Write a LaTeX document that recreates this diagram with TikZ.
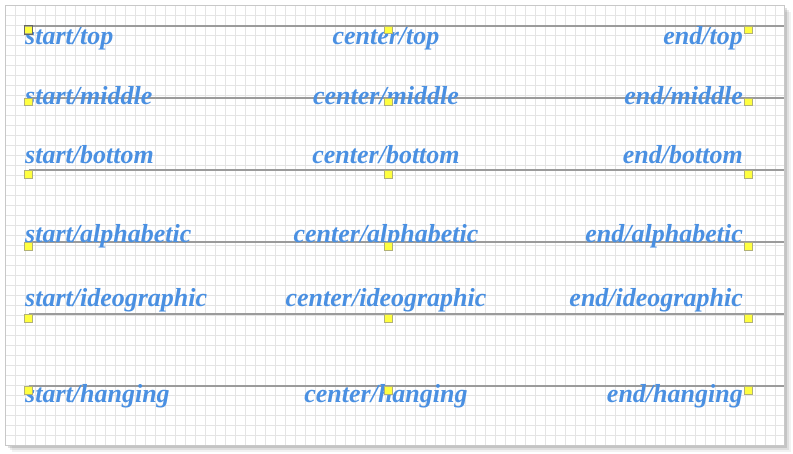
\documentclass[tikz,border=0pt]{standalone}
\usepackage{fontspec}
\setmainfont{Liberation Serif}
\usepackage{tikz}
\usetikzlibrary{positioning}
\definecolor{lblblue}{RGB}{74,144,226}
\definecolor{gridgray}{RGB}{228,228,228}
\definecolor{guidegray}{RGB}{155,155,155}
\definecolor{markyellow}{RGB}{255,255,64}
\definecolor{markborder}{RGB}{176,176,120}
\definecolor{panelborder}{RGB}{200,200,200}
\tikzstyle{lbl} = [inner sep=0pt, text=lblblue, font=\fontsize{26}{28}\selectfont\bfseries\itshape]
\tikzstyle{marker} = [draw=markborder, fill=markyellow, line width=1pt, minimum size=7.5pt, inner sep=0pt, anchor=north]
\tikzstyle{guide} = [line width=1.6pt, color=guidegray]

\begin{document}
\begin{tikzpicture}[x=1pt, y=-1pt]
\useasboundingbox (0,0) rectangle (793,453);
% Panel with soft shadow
\foreach \o/\a in {7/0.05,5/0.08,3/0.12} {
    \fill[black, opacity=\a] (5+\o,5+\o) rectangle (784+\o,445+\o);
}
\fill[white] (5,5) rectangle (784,445);
% Grid
\foreach \x in {15.5,25.5,...,775.5} {
    \draw[gridgray, line width=0.7pt] (\x,5) -- (\x,445);
}
\foreach \y in {15.5,25.5,...,435.5} {
    \draw[gridgray, line width=0.7pt] (5,\y) -- (784,\y);
}
\draw[panelborder, line width=1pt] (5,5) rectangle (784,445);

% One row per baseline
\foreach \r/\ly/\by in {top/25.7/44, middle/97.7/104.5, bottom/170/163.5,
                        alphabetic/242/242, ideographic/314/306.5, hanging/386/402.5} {
    \coordinate (s-\r) at (28.5,\ly);
    \coordinate (c-\r) at (388.5,\ly);
    \coordinate (e-\r) at (748.5,\ly);
    \coordinate (r-\r) at (784,\ly);
    \draw[guide] (s-\r) -- (r-\r);
    \node[lbl, anchor=base west] (ts-\r) at (25,\by) {start/\r};
    \node[lbl, anchor=base] (tc-\r) at (386,\by) {center/\r};
    \node[lbl, anchor=base east] (te-\r) at (743,\by) {end/\r};
    \node[marker] (ms-\r) at (s-\r) {};
    \node[marker] (mc-\r) at (c-\r) {};
    \node[marker] (me-\r) at (e-\r) {};
}
% Selected marker
\draw[black!60, line width=1pt] (ms-top.south west) rectangle (ms-top.north east);
\end{tikzpicture}
\end{document}
